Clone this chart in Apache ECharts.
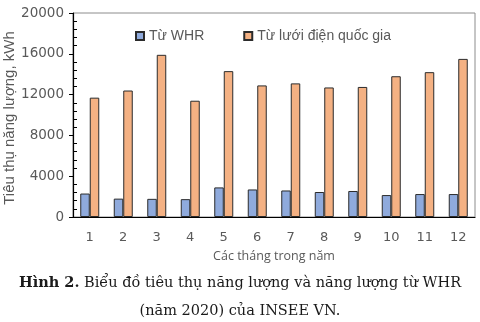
<!DOCTYPE html>
<html>
<head>
<meta charset="utf-8">
<script src="https://cdn.jsdelivr.net/npm/echarts@6/dist/echarts.min.js"></script>
<style>
  html, body { margin: 0; padding: 0; background: #fff; }
  #chart { width: 480px; height: 322px; }
</style>
</head>
<body>
<div id="chart"></div>
<script>
// Monthly energy use, 2020 (kWh)
const months = ['1', '2', '3', '4', '5', '6', '7', '8', '9', '10', '11', '12'];
const whrValues = [2300, 1800, 1780, 1750, 2900, 2700, 2600, 2450, 2550, 2150, 2250, 2250];
const gridValues = [11700, 12400, 15900, 11400, 14300, 12900, 13100, 12700, 12750, 13800, 14200, 15500];
const seriesNames = ['Từ WHR', 'Từ lưới điện quốc gia'];
const yTicks = { min: 0, max: 20000, interval: 4000 };
const yAxisTitle = 'Tiêu thụ năng lượng, kWh';
const xAxisTitle = 'Các tháng trong năm';

const chart = echarts.init(document.getElementById('chart'), null, { renderer: 'canvas' });

const labelGrey = '#595959';
const axisFont = 'DejaVu Sans';

chart.setOption({
  animation: false,
  backgroundColor: '#ffffff',
  grid: {
    left: 73, right: 5, top: 13, bottom: 105,
    outerBoundsMode: 'none',
    containLabel: false,
    show: true, borderColor: '#8c8c8c', borderWidth: 1
  },
  legend: {
    data: seriesNames,
    top: 29, left: 135, padding: 0,
    itemWidth: 8, itemHeight: 8, itemGap: 39,
    icon: 'rect',
    textStyle: { color: labelGrey, fontFamily: 'Liberation Sans', fontSize: 14 }
  },
  xAxis: {
    type: 'category',
    data: months,
    name: xAxisTitle,
    nameLocation: 'middle',
    nameGap: 33,
    nameTextStyle: { color: labelGrey, fontFamily: 'Open Sans', fontSize: 12.5 },
    axisLine: { lineStyle: { color: '#000', width: 1.2 } },
    axisTick: { show: false },
    axisLabel: { color: labelGrey, fontFamily: axisFont, fontSize: 13, margin: 14 }
  },
  yAxis: [
    {
      type: 'value',
      min: yTicks.min, max: yTicks.max, interval: yTicks.interval,
      axisLine: { show: true, lineStyle: { color: '#000', width: 1.2 } },
      axisTick: { show: true, length: 4, lineStyle: { color: '#000' } },
      axisLabel: {
        color: labelGrey, fontFamily: axisFont, fontSize: 13.5, margin: 9,
        formatter: (v) => String(v)
      },
      splitLine: { show: false }
    },
    {
      // inward minor ticks along the value axis
      type: 'value',
      position: 'left',
      min: yTicks.min, max: yTicks.max, interval: yTicks.interval,
      axisLine: { show: false },
      axisTick: { show: false, inside: true },
      minorTick: { show: true, splitNumber: 5, length: 4, lineStyle: { color: '#000' } },
      axisLabel: { show: false },
      splitLine: { show: false }
    }
  ],
  series: [
    {
      name: seriesNames[0],
      type: 'bar',
      data: whrValues,
      barWidth: 9.5,
      barGap: '0%',
      itemStyle: { color: '#8faadc', borderColor: '#2b2b2b', borderWidth: 1 }
    },
    {
      name: seriesNames[1],
      type: 'bar',
      data: gridValues,
      barWidth: 9.5,
      barGap: '0%',
      itemStyle: { color: '#f4b183', borderColor: '#2b2b2b', borderWidth: 1 }
    }
  ],
  graphic: [
    {
      // vertical value-axis title
      type: 'text',
      x: 10, y: 118,
      rotation: Math.PI / 2,
      style: {
        text: yAxisTitle,
        fontFamily: 'Liberation Sans',
        fontSize: 15,
        fill: labelGrey,
        align: 'center',
        verticalAlign: 'middle'
      }
    },
    {
      type: 'text',
      left: 'center',
      top: 276,
      style: {
        text: '{b|Hình 2.} Biểu đồ tiêu thụ năng lượng và năng lượng từ WHR',
        fontFamily: 'DejaVu Serif',
        fontSize: 14.5,
        fill: '#1a1a1a',
        rich: {
          b: { fontFamily: 'DejaVu Serif', fontSize: 14.5, fontWeight: 'bold', fill: '#1a1a1a' }
        }
      }
    },
    {
      type: 'text',
      left: 'center',
      top: 304,
      style: {
        text: '(năm 2020) của INSEE VN.',
        fontFamily: 'DejaVu Serif',
        fontSize: 14.5,
        fill: '#1a1a1a'
      }
    }
  ]
});
</script>
</body>
</html>
